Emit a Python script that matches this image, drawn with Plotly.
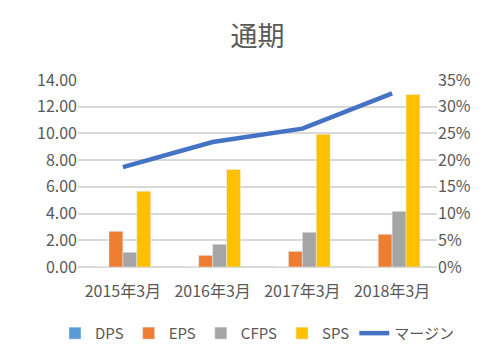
import plotly.graph_objects as go

categories = ["2015年3月", "2016年3月", "2017年3月", "2018年3月"]
dps = [0, 0, 0, 0]
eps = [2.67, 0.87, 1.17, 2.45]
cfps = [1.10, 1.70, 2.60, 4.17]
sps = [5.67, 7.30, 9.93, 12.92]
margin = [0.187, 0.234, 0.259, 0.325]
left_ticks = [0, 2, 4, 6, 8, 10, 12, 14]
right_ticks = [0, 0.05, 0.10, 0.15, 0.20, 0.25, 0.30, 0.35]

font_family = "Noto Sans CJK JP, Noto Sans, sans-serif"
gray = "#595959"

fig = go.Figure()
fig.add_trace(go.Bar(x=categories, y=dps, name="DPS", marker_color="#5B9BD5"))
fig.add_trace(go.Bar(x=categories, y=eps, name="EPS", marker_color="#ED7D31"))
fig.add_trace(go.Bar(x=categories, y=cfps, name="CFPS", marker_color="#A5A5A5"))
fig.add_trace(go.Bar(x=categories, y=sps, name="SPS", marker_color="#FFC000"))
fig.add_trace(go.Scatter(x=categories, y=margin, name="マージン", mode="lines",
                         line=dict(color="#4472C4", width=4.5), yaxis="y2"))

fig.update_layout(
    width=500, height=364,
    paper_bgcolor="white", plot_bgcolor="white",
    margin=dict(l=78, r=63, t=80, b=97, autoexpand=False),
    title=dict(text="通期", x=0.5, xanchor="center", y=0.9, yanchor="middle",
               xref="paper", yref="container",
               font=dict(family=font_family, size=27, color=gray)),
    font=dict(family=font_family, size=15, color=gray),
    barmode="group", bargap=0.38, bargroupgap=0,
    xaxis=dict(showgrid=False, tickfont=dict(size=16, color=gray), ticks="",
               showline=False, ticklabelstandoff=13),
    yaxis=dict(range=[0, 14], tickvals=left_ticks, tickformat=".2f",
               gridcolor="#D9D9D9", gridwidth=1.5, zeroline=True,
               zerolinecolor="#D9D9D9", zerolinewidth=1.5,
               tickfont=dict(size=16, color=gray)),
    yaxis2=dict(range=[0, 0.35], tickvals=right_ticks, tickformat=".0%",
                overlaying="y", side="right", showgrid=False, zeroline=False,
                tickfont=dict(size=16, color=gray)),
    legend=dict(orientation="h", xref="paper", yref="paper",
                x=-0.064, xanchor="left", y=-0.355, yanchor="middle",
                font=dict(size=15, color=gray), traceorder="normal",
                itemwidth=30),
)

fig.write_html("out.html", config={"displayModeBar": False},
               post_script="document.body.style.margin='0';")
